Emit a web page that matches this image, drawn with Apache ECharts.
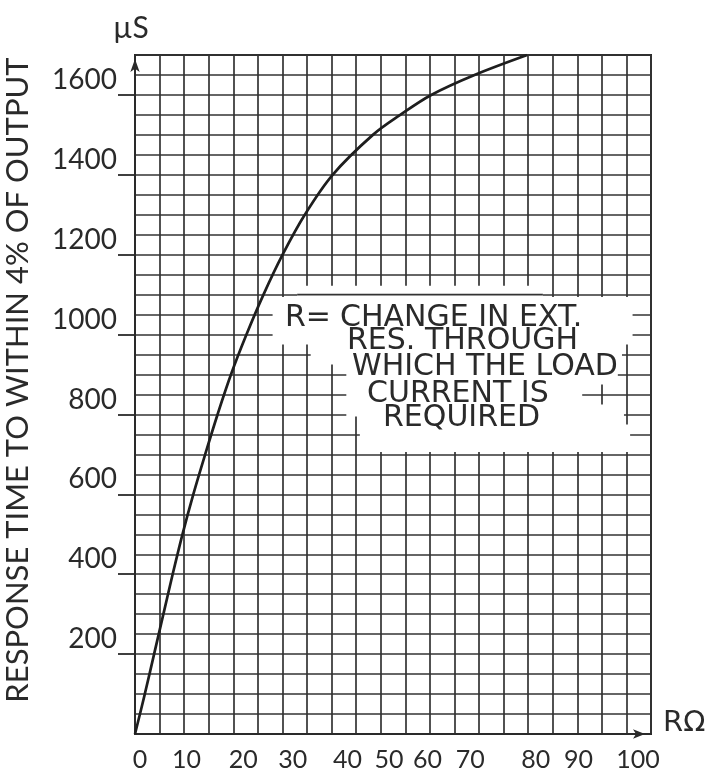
<!DOCTYPE html>
<html>
<head>
<meta charset="utf-8">
<script src="https://cdn.jsdelivr.net/npm/echarts@6/dist/echarts.min.js"></script>
<style>
  html, body { margin: 0; padding: 0; background: #ffffff; }
  #chart { width: 717px; height: 772px; }
</style>
</head>
<body>
<div id="chart"></div>
<script>
// Response time (µs) against change in external load resistance R (ohms)
const resistance   = [0, 1.9, 3.7, 5.5, 7.3, 9.2, 11.3, 13.6, 16.0, 18.6, 21.6, 24.9, 28.6, 32.9, 38.3, 46.1, 51.4, 57.4, 65.8, 76.0];
const responseTime = [0, 100, 200, 300, 400, 500, 600, 700, 800, 900, 1000, 1100, 1200, 1300, 1400, 1500, 1550, 1600, 1650, 1700];

const xTickValues = [0, 10, 20, 30, 40, 50, 60, 70, 80, 90, 100];
const yTickValues = [200, 400, 600, 800, 1000, 1200, 1400, 1600];

const yTitle = 'RESPONSE TIME TO WITHIN 4% OF OUTPUT';
const yUnit = 'µS';
const xUnit = 'RΩ';
const noteLines = ['R=', 'CHANGE IN EXT.', 'RES. THROUGH', 'WHICH THE LOAD', 'CURRENT IS', 'REQUIRED'];

// ---- styling / layout ----
const INK = '#2a2a2a';
const GRID_INK = '#333333';
const X_RANGE = [0, 100];
const Y_RANGE = [0, 1700];
const GRID_COLS = 21;           // ruled columns on the graph paper
const GRID_ROW_STEP = 50;       // ruled rows every 50 µs

// hand-lettered x labels sit slightly off their ticks
const xLabelShift = {0: 5, 10: 0, 20: 5, 30: 3, 40: 6, 50: -4, 60: -17, 70: -26, 80: -12, 90: -21, 100: -13};
const xRich = {};
xTickValues.forEach(v => {
  const d = xLabelShift[v] || 0;
  xRich['t' + v] = {
    fontFamily: 'Lato', fontSize: 25, color: INK,
    padding: d >= 0 ? [0, 0, 0, 2 * d] : [0, -2 * d, 0, 0]
  };
});

// note text placement: [left x, middle y]
const notePlacement = [[285, 318], [340, 318], [347, 341], [352, 367], [367, 394], [383, 418]];

const chart = echarts.init(document.getElementById('chart'), null, { renderer: 'canvas' });

chart.setOption({
  backgroundColor: '#ffffff',
  animation: false,
  grid: {
    left: 135, right: 66, top: 55, bottom: 38,
    show: true, borderColor: INK, borderWidth: 2, backgroundColor: 'transparent'
  },
  xAxis: [
    {
      type: 'value', min: X_RANGE[0], max: X_RANGE[1], interval: 10,
      position: 'bottom',
      axisLine: {
        show: true, lineStyle: { color: INK, width: 2 },
        symbol: ['none', 'arrow'], symbolSize: [7, 12], symbolOffset: [0, -6]
      },
      axisTick: { show: false },
      splitLine: { show: false },
      axisLabel: {
        margin: 13,
        formatter: v => '{t' + v + '|' + v + '}',
        rich: xRich
      },
      name: xUnit, nameLocation: 'end', nameGap: 12,
      nameTextStyle: { fontFamily: 'DejaVu Sans', fontSize: 29, color: INK, align: 'left', verticalAlign: 'bottom', padding: [0, 0, -4, 0] }
    },
    {
      type: 'value', min: 0, max: GRID_COLS, interval: 1,
      position: 'bottom',
      axisLine: { show: false }, axisTick: { show: false }, axisLabel: { show: false },
      splitLine: { show: true, lineStyle: { color: GRID_INK, width: 1.7 } }
    }
  ],
  yAxis: [
    {
      type: 'value', min: Y_RANGE[0], max: Y_RANGE[1], interval: 200,
      position: 'left',
      axisLine: {
        show: true, lineStyle: { color: INK, width: 2 },
        symbol: ['none', 'arrow'], symbolSize: [7, 13], symbolOffset: [0, -4]
      },
      axisTick: { show: true, inside: false, length: 17, customValues: yTickValues, lineStyle: { color: INK, width: 1.8 } },
      axisLabel: {
        customValues: yTickValues, margin: 18, verticalAlign: 'bottom',
        formatter: v => String(v),
        fontFamily: 'Lato', fontSize: 28, color: INK, padding: [0, 0, 1, 0]
      },
      splitLine: { show: false },
      name: yUnit, nameLocation: 'end', nameGap: 12,
      nameTextStyle: { fontFamily: 'Lato', fontSize: 30, color: INK, align: 'center', verticalAlign: 'bottom', padding: [0, 8, 0, 0] }
    },
    {
      type: 'value', min: Y_RANGE[0], max: Y_RANGE[1], interval: GRID_ROW_STEP,
      position: 'left',
      axisLine: { show: false }, axisTick: { show: false }, axisLabel: { show: false },
      splitLine: { show: true, lineStyle: { color: GRID_INK, width: 1.7 } }
    }
  ],
  series: [{
    type: 'line',
    xAxisIndex: 0, yAxisIndex: 0,
    data: resistance.map((r, i) => [r, responseTime[i]]),
    smooth: 0.35,
    showSymbol: false,
    lineStyle: { color: '#1e1e1e', width: 2.7 },
    z: 5
  }]
});

// Cleared panel for the note, cut into the graph paper (columns / µs rows)
const panelOutline = [
  [5.6, 1094], [6.6, 1094], [6.6, 1122], [16.6, 1122], [16.6, 1094], [20.25, 1094],
  [20.25, 975], [19.82, 975], [19.82, 925], [19.65, 925], [19.65, 875], [18.2, 875],
  [18.2, 825], [19.9, 825], [19.9, 775], [20.15, 775], [20.15, 706],
  [9.15, 706], [9.15, 795], [8.6, 795], [8.6, 925], [7.15, 925], [7.15, 975], [5.6, 975]
];
const toPx = p => chart.convertToPixel({ xAxisIndex: 1, yAxisIndex: 1 }, p);
const ruleL = toPx([6.6, 1100]);
const ruleR = toPx([16.6, 1100]);

const graphics = [
  {
    type: 'polygon', z: 3, silent: true,
    shape: { points: panelOutline.map(toPx) },
    style: { fill: '#ffffff', stroke: null }
  },
  {
    type: 'line', z: 4, silent: true,
    shape: { x1: ruleL[0], y1: ruleL[1], x2: ruleR[0], y2: ruleR[1] },
    style: { stroke: GRID_INK, lineWidth: 1.7 }
  },
  {
    type: 'text', z: 6, silent: true,
    x: 18, y: 380, rotation: Math.PI / 2,
    style: { text: yTitle, fontFamily: 'Lato', fontSize: 31, fill: INK, align: 'center', verticalAlign: 'middle' }
  }
];
noteLines.forEach((t, i) => {
  graphics.push({
    type: 'text', z: 6, silent: true,
    x: notePlacement[i][0], y: notePlacement[i][1],
    style: { text: t, fontFamily: 'DejaVu Sans', fontSize: 30, fill: INK, align: 'left', verticalAlign: 'middle' }
  });
});
chart.setOption({ graphic: graphics });
</script>
</body>
</html>
